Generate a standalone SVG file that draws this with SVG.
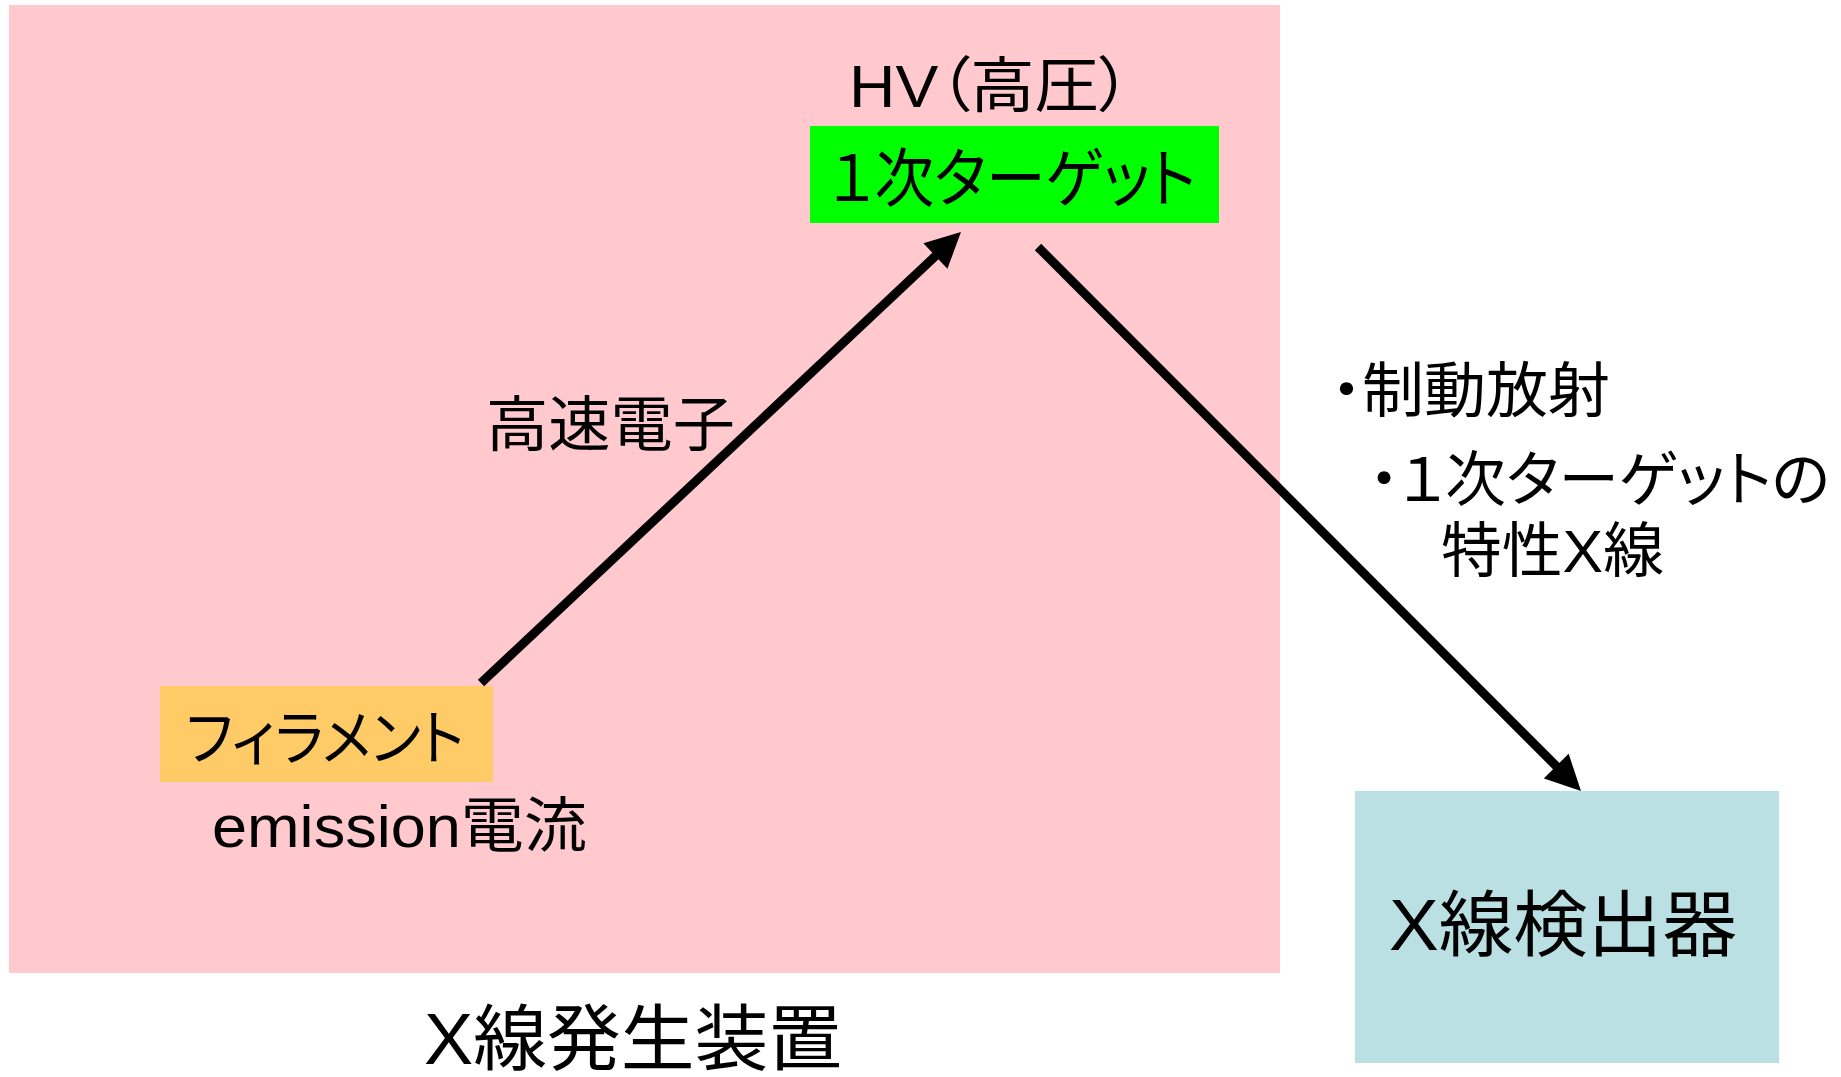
<svg xmlns="http://www.w3.org/2000/svg" width="1841" height="1077" viewBox="0 0 1841 1077">
<style>
text{font-family:"Liberation Sans","Noto Sans CJK JP",sans-serif;fill:#000;font-feature-settings:"palt"}
.t60{font-size:60px}
.t64{font-size:64px}
.t72{font-size:72px}
.conn{stroke:#000;stroke-width:9;fill:none}
</style>
<defs>
<marker id="ah" viewBox="0 0 10 10" markerWidth="4" markerHeight="3.9" refX="2.9" refY="5" orient="auto" markerUnits="strokeWidth">
<path d="M0,0 L10,5 L0,10 z" fill="#000"/>
</marker>
</defs>
<rect width="1841" height="1077" fill="#fff"/>
<g id="generator">
<rect x="9" y="5" width="1271" height="968" fill="#FFC9CE"/>
<text class="t72" x="424" y="1064" textLength="418" lengthAdjust="spacingAndGlyphs">X線発生装置</text>
</g>
<g id="hv-label">
<text class="t60" x="849" y="107" textLength="282" lengthAdjust="spacingAndGlyphs">HV（高圧）</text>
</g>
<g id="target">
<rect x="810" y="126" width="409" height="97" fill="#00FF00"/>
<text class="t64" x="829" y="201" textLength="367" lengthAdjust="spacingAndGlyphs">１次ターゲット</text>
</g>
<g id="filament">
<rect x="160" y="686" width="333" height="96" fill="#FECB67"/>
<text class="t60" x="186" y="760" textLength="278" lengthAdjust="spacingAndGlyphs">フィラメント</text>
<text class="t60" x="212" y="847" textLength="375" lengthAdjust="spacingAndGlyphs">emission電流</text>
</g>
<g id="electron-label">
<text class="t60" x="486" y="446" textLength="249" lengthAdjust="spacingAndGlyphs">高速電子</text>
</g>
<g id="emission-labels">
<text class="t60" x="1331" y="412" textLength="279" lengthAdjust="spacingAndGlyphs">・制動放射</text>
<text class="t60" x="1369" y="501" textLength="461" lengthAdjust="spacingAndGlyphs">・１次ターゲットの</text>
<text class="t60" x="1441" y="572" textLength="223" lengthAdjust="spacingAndGlyphs">特性X線</text>
</g>
<g id="detector">
<rect x="1355" y="791" width="424" height="272" fill="#BAE0E3"/>
<text class="t72" x="1389" y="950" textLength="348" lengthAdjust="spacingAndGlyphs">X線検出器</text>
</g>
<g id="connectors">
<line class="conn" x1="481" y1="683" x2="942.8" y2="249.1" marker-end="url(#ah)"/>
<line class="conn" x1="1038" y1="247" x2="1563.4" y2="773.3" marker-end="url(#ah)"/>
</g>
</svg>
